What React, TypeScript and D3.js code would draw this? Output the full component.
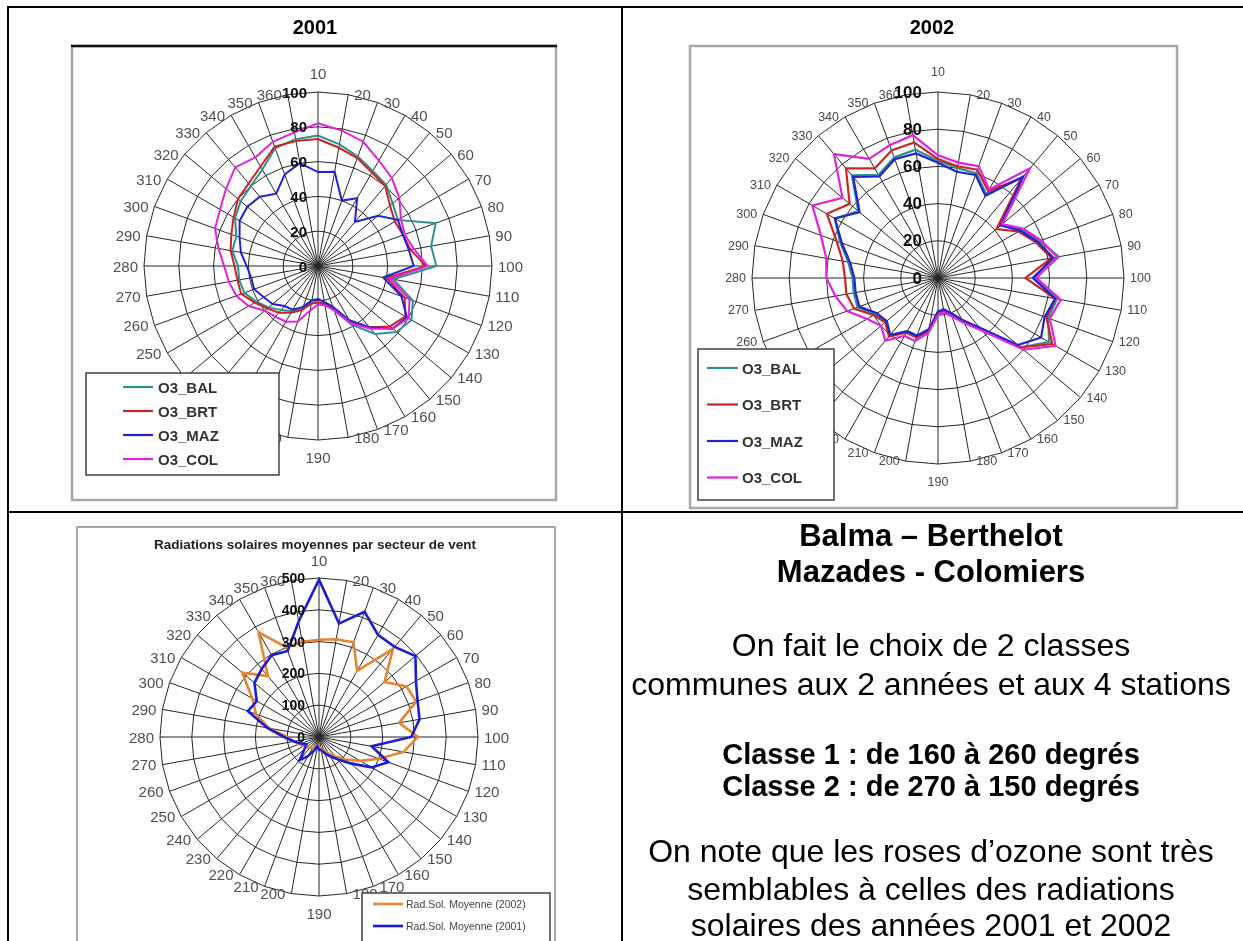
import React from "react";
import * as d3 from "d3";

// Wind sectors (degrees), one spoke per sector
const DIRECTIONS = [
  10, 20, 30, 40, 50, 60, 70, 80, 90, 100, 110, 120, 130, 140, 150, 160, 170, 180,
  190, 200, 210, 220, 230, 240, 250, 260, 270, 280, 290, 300, 310, 320, 330, 340, 350, 360,
];

const O3_TICKS = [0, 20, 40, 60, 80, 100];
const RAD_TICKS = [0, 100, 200, 300, 400, 500];

const STATIONS = ["O3_BAL", "O3_BRT", "O3_MAZ", "O3_COL"];
const STATION_COLORS = ["#2f9090", "#c82626", "#2424d0", "#e022e0"];

// Mean ozone per wind sector, 2001
const BAL_2001 = [75, 71, 67, 63, 61, 56, 53, 72, 66, 68, 44, 58, 62, 59, 51, 39, 27, 22, 21, 21, 26, 30, 33, 37, 41, 45, 46, 46, 50, 50, 55, 58, 60, 64, 72, 74];
const BRT_2001 = [73, 69, 66, 62, 60, 54, 51, 52, 54, 62, 40, 53, 58, 54, 46, 37, 26, 22, 21, 22, 27, 31, 35, 38, 42, 47, 47, 48, 51, 53, 56, 60, 62, 66, 73, 73];
const MAZ_2001 = [54, 55, 40, 45, 33, 45, 53, 52, 53, 55, 38, 51, 59, 56, 46, 36, 25, 21, 19, 20, 25, 29, 30, 34, 36, 39, 39, 41, 45, 48, 52, 53, 52, 48, 56, 60];
const COL_2001 = [82, 79, 76, 70, 66, 61, 55, 53, 56, 63, 42, 56, 60, 56, 47, 38, 27, 23, 22, 26, 34, 37, 38, 40, 46, 50, 52, 54, 58, 63, 65, 69, 74, 72, 76, 78];

// Mean ozone per wind sector, 2002
const BAL_2002 = [63, 60, 60, 52, 71, 44, 52, 58, 66, 52, 65, 63, 69, 58, 36, 27, 21, 18, 19, 28, 33, 33, 40, 36, 39, 46, 46, 46, 49, 56, 64, 56, 72, 64, 69, 70];
const BRT_2002 = [64, 61, 62, 54, 70, 41, 50, 56, 62, 47, 64, 62, 71, 58, 35, 26, 20, 18, 18, 29, 34, 34, 41, 37, 40, 48, 50, 50, 52, 58, 69, 62, 77, 68, 73, 74];
const MAZ_2002 = [62, 58, 59, 51, 71, 44, 51, 57, 63, 51, 64, 61, 64, 56, 35, 26, 20, 17, 18, 28, 33, 33, 40, 36, 38, 45, 45, 45, 48, 55, 64, 55, 71, 63, 68, 68];
const COL_2002 = [66, 63, 64, 55, 77, 45, 53, 59, 65, 53, 67, 64, 73, 60, 37, 28, 22, 19, 20, 30, 36, 36, 44, 40, 44, 52, 56, 60, 61, 67, 78, 67, 87, 74, 76, 78];

// Mean solar radiation per wind sector
const RAD_LABELS = ["Rad.Sol. Moyenne (2002)", "Rad.Sol. Moyenne (2001)"];
const RAD_COLORS = ["#e8842e", "#1d1dd2"];
const RAD_2002 = [306, 312, 317, 240, 362, 269, 318, 325, 256, 311, 270, 200, 150, 110, 80, 60, 45, 35, 30, 28, 30, 40, 45, 50, 55, 65, 80, 100, 160, 211, 242, 315, 250, 380, 300, 304];
const RAD_2001 = [495, 362, 419, 371, 370, 396, 352, 330, 321, 290, 168, 232, 191, 129, 91, 70, 55, 42, 40, 30, 45, 70, 95, 60, 45, 60, 80, 110, 165, 238, 226, 265, 280, 297, 288, 369];

const YEARS = ["2001", "2002"];
const RAD_TITLE = "Radiations solaires moyennes par secteur de vent";

const FONT = "'Liberation Sans', Arial, Helvetica, sans-serif";

type Series = { values: number[]; color: string; width: number };

type RadarProps = {
  cx: number;
  cy: number;
  R: number;
  ticks: number[];
  series: Series[];
  catSize: number;
  catColor: string;
  valSize: number;
  valDx: number;
  topPad: number;
  botPad: number;
  sidePad: number;
  gridColor: string;
};

function Radar(p: RadarProps) {
  const max = p.ticks[p.ticks.length - 1];
  const r = d3.scaleLinear().domain([0, max]).range([0, p.R]);
  const a = d3.scaleLinear().domain([10, 370]).range([0, 2 * Math.PI]);

  const ring = (v: number) =>
    d3
      .lineRadial<number>()
      .angle((d) => a(d))
      .radius(r(v))
      .curve(d3.curveLinearClosed)(DIRECTIONS) as string;

  const trace = (vals: number[]) =>
    d3
      .lineRadial<number>()
      .angle((_, i) => a(DIRECTIONS[i]))
      .radius((d) => r(d))
      .curve(d3.curveLinearClosed)(vals) as string;

  return (
    <g transform={`translate(${p.cx},${p.cy})`}>
      {p.ticks
        .filter((t) => t > 0)
        .map((t) => (
          <path key={`ring${t}`} d={ring(t)} fill="none" stroke={p.gridColor} strokeWidth={1} />
        ))}
      {DIRECTIONS.map((c) => {
        const th = a(c);
        return (
          <line
            key={`sp${c}`}
            x1={0}
            y1={0}
            x2={p.R * Math.sin(th)}
            y2={-p.R * Math.cos(th)}
            stroke={p.gridColor}
            strokeWidth={1}
          />
        );
      })}
      {p.series.map((s, i) => (
        <path
          key={`s${i}`}
          d={trace(s.values)}
          fill="none"
          stroke={s.color}
          strokeWidth={s.width}
          strokeLinejoin="miter"
        />
      ))}
      {DIRECTIONS.map((c) => {
        const th = a(c);
        const sx = Math.sin(th);
        const sy = -Math.cos(th);
        const px = p.R * sx;
        const py = p.R * sy;
        let x = px;
        let y = py;
        let anchor = "middle";
        if (Math.abs(sx) < 1e-6) {
          y = sy < 0 ? py - p.topPad : py + p.botPad;
        } else {
          anchor = sx > 0 ? "start" : "end";
          x = px + (sx > 0 ? p.sidePad : -p.sidePad);
        }
        return (
          <text
            key={`cl${c}`}
            x={x}
            y={y}
            textAnchor={anchor}
            dominantBaseline="central"
            fontSize={p.catSize}
            fill={p.catColor}
            fontFamily={FONT}
          >
            {c}
          </text>
        );
      })}
      {p.ticks.map((t) => (
        <text
          key={`vl${t}`}
          x={p.valDx}
          y={-r(t)}
          textAnchor="end"
          dominantBaseline="central"
          fontSize={p.valSize}
          fontWeight="bold"
          fill="#111"
          fontFamily={FONT}
        >
          {t}
        </text>
      ))}
    </g>
  );
}

type LegendProps = {
  x: number;
  y: number;
  w: number;
  h: number;
  labels: string[];
  colors: string[];
  row0: number;
  step: number;
  lx1: number;
  lx2: number;
  tx: number;
  size: number;
  weight: string;
  textColor: string;
  lineWidth: number;
};

function Legend(p: LegendProps) {
  return (
    <g>
      <rect x={p.x} y={p.y} width={p.w} height={p.h} fill="#fff" stroke="#333" strokeWidth={1.4} />
      {p.labels.map((lab, i) => {
        const yy = p.row0 + i * p.step;
        return (
          <g key={lab}>
            <line x1={p.lx1} x2={p.lx2} y1={yy} y2={yy} stroke={p.colors[i]} strokeWidth={p.lineWidth} />
            <text
              x={p.tx}
              y={yy}
              dominantBaseline="central"
              fontSize={p.size}
              fontWeight={p.weight}
              fill={p.textColor}
              fontFamily={FONT}
            >
              {lab}
            </text>
          </g>
        );
      })}
    </g>
  );
}

const series2001: Series[] = [BAL_2001, BRT_2001, MAZ_2001, COL_2001].map((v, i) => ({
  values: v,
  color: STATION_COLORS[i],
  width: 2,
}));
const series2002: Series[] = [BAL_2002, BRT_2002, MAZ_2002, COL_2002].map((v, i) => ({
  values: v,
  color: STATION_COLORS[i],
  width: 2.2,
}));
const seriesRad: Series[] = [RAD_2002, RAD_2001].map((v, i) => ({
  values: v,
  color: RAD_COLORS[i],
  width: 2.6,
}));

export default function App() {
  const W = 1243;
  const H = 941;
  return (
    <svg
      width={W}
      height={H}
      viewBox={`0 0 ${W} ${H}`}
      style={{ position: "absolute", left: 0, top: 0, display: "block", background: "#fff" }}
    >
      <defs>
        <filter id="soft1" x="-5%" y="-5%" width="110%" height="110%">
          <feGaussianBlur stdDeviation="0.55" />
        </filter>
        <filter id="soft2" x="-5%" y="-5%" width="110%" height="110%">
          <feGaussianBlur stdDeviation="0.7" />
        </filter>
        <filter id="soft3" x="-5%" y="-5%" width="110%" height="110%">
          <feGaussianBlur stdDeviation="0.6" />
        </filter>
      </defs>
      <rect x={0} y={0} width={W} height={H} fill="#fff" />

      {/* Chart: ozone 2001 */}
      <g>
        <rect x={72} y={46} width={484} height={454} fill="#fff" stroke="#a8a8a8" strokeWidth={2.5} />
        <line x1={71} x2={557} y1={46} y2={46} stroke="#111" strokeWidth={2.5} />
        <g filter="url(#soft1)">
          <Radar
            cx={318}
            cy={266}
            R={174}
            ticks={O3_TICKS}
            series={series2001}
            catSize={15}
            catColor="#505050"
            valSize={15}
            valDx={-11}
            topPad={19}
            botPad={17}
            sidePad={6}
            gridColor="#262626"
          />
          <Legend
            x={86}
            y={373}
            w={193}
            h={102}
            labels={STATIONS}
            colors={STATION_COLORS}
            row0={387}
            step={24}
            lx1={123}
            lx2={153}
            tx={158}
            size={15}
            weight="bold"
            textColor="#333"
            lineWidth={2.2}
          />
        </g>
      </g>

      {/* Chart: ozone 2002 */}
      <g>
        <rect x={690} y={46} width={487} height={462} fill="#fff" stroke="#a8a8a8" strokeWidth={2.5} />
        <g filter="url(#soft2)">
          <Radar
            cx={938}
            cy={278}
            R={186}
            ticks={O3_TICKS}
            series={series2002}
            catSize={12.5}
            catColor="#484848"
            valSize={17}
            valDx={-16}
            topPad={20}
            botPad={18}
            sidePad={6}
            gridColor="#262626"
          />
          <Legend
            x={698}
            y={349}
            w={136}
            h={151}
            labels={STATIONS}
            colors={STATION_COLORS}
            row0={368}
            step={36.5}
            lx1={707}
            lx2={738}
            tx={742}
            size={15}
            weight="bold"
            textColor="#333"
            lineWidth={2.2}
          />
        </g>
      </g>

      {/* Chart: solar radiation */}
      <g>
        <rect x={77} y={527} width={478} height={430} fill="#fff" stroke="#a8a8a8" strokeWidth={2} />
        <g filter="url(#soft3)">
          <text
            x={315}
            y={544}
            textAnchor="middle"
            dominantBaseline="central"
            fontSize={13.5}
            fontWeight="bold"
            fill="#222"
            fontFamily={FONT}
          >
            {RAD_TITLE}
          </text>
          <Radar
            cx={319}
            cy={737}
            R={159}
            ticks={RAD_TICKS}
            series={seriesRad}
            catSize={15}
            catColor="#505050"
            valSize={14}
            valDx={-14}
            topPad={18}
            botPad={17}
            sidePad={6}
            gridColor="#262626"
          />
          <Legend
            x={362}
            y={893}
            w={188}
            h={56}
            labels={RAD_LABELS}
            colors={RAD_COLORS}
            row0={904}
            step={22}
            lx1={373}
            lx2={403}
            tx={406}
            size={10.5}
            weight="normal"
            textColor="#444"
            lineWidth={2.6}
          />
        </g>
      </g>

      {/* Table rules */}
      <line x1={7} x2={W + 10} y1={7} y2={7} stroke="#000" strokeWidth={2} />
      <line x1={8} x2={8} y1={6} y2={H} stroke="#000" strokeWidth={2} />
      <line x1={622} x2={622} y1={6} y2={H} stroke="#000" strokeWidth={2} />
      <line x1={7} x2={W + 10} y1={512} y2={512} stroke="#000" strokeWidth={2} />

      {/* Column headers */}
      <text x={315} y={34} textAnchor="middle" fontSize={20} fontWeight="bold" fill="#000" fontFamily={FONT}>
        {YEARS[0]}
      </text>
      <text x={932} y={34} textAnchor="middle" fontSize={20} fontWeight="bold" fill="#000" fontFamily={FONT}>
        {YEARS[1]}
      </text>

      {/* Commentary cell */}
      <g fontFamily={FONT} fill="#000" textAnchor="middle">
        <text x={931} y={546} fontSize={31} fontWeight="bold">Balma – Berthelot</text>
        <text x={931} y={582} fontSize={31} fontWeight="bold">Mazades - Colomiers</text>
        <text x={931} y={656} fontSize={32}>On fait le choix de 2 classes</text>
        <text x={931} y={695} fontSize={32}>communes aux 2 années et aux 4 stations</text>
        <text x={931} y={764} fontSize={29} fontWeight="bold">Classe 1 : de 160 à 260 degrés</text>
        <text x={931} y={796} fontSize={29} fontWeight="bold">Classe 2 : de 270 à 150 degrés</text>
        <text x={931} y={862} fontSize={32}>On note que les roses d’ozone sont très</text>
        <text x={931} y={900} fontSize={32}>semblables à celles des radiations</text>
        <text x={931} y={936} fontSize={32}>solaires des années 2001 et 2002</text>
      </g>
    </svg>
  );
}
